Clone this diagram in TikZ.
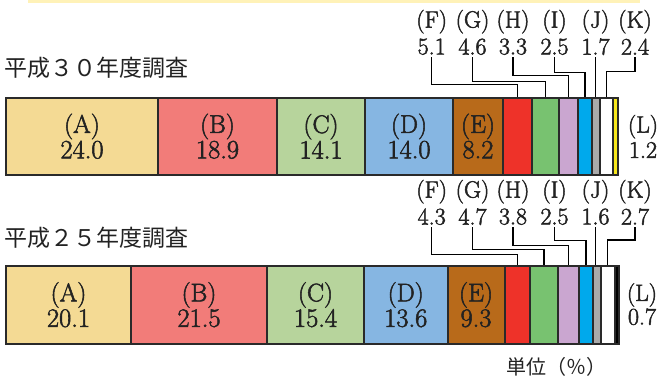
\documentclass[tikz,border=0pt]{standalone}
\usepackage{fontspec}
\setmainfont{Latin Modern Roman}[FakeBold=2]
\newfontfamily\jpfont{Noto Sans CJK JP}
\definecolor{cA}{HTML}{F4DA94}
\definecolor{cB}{HTML}{F27C79}
\definecolor{cC}{HTML}{B7D49C}
\definecolor{cD}{HTML}{86B6E2}
\definecolor{cE}{HTML}{B86A1A}
\definecolor{cF}{HTML}{EE3229}
\definecolor{cG}{HTML}{78C270}
\definecolor{cH}{HTML}{CAA6D0}
\definecolor{cI}{HTML}{00A9EC}
\definecolor{cJ}{HTML}{AAAAAA}
\definecolor{cLy}{HTML}{F8E81C}
\definecolor{band}{HTML}{FFF2B8}
\definecolor{lc}{HTML}{2A2A2A}
\definecolor{tc}{HTML}{222222}
\newcommand\lbf{\fontsize{25.5}{25.5}\selectfont}
\newcommand\vlf{\fontsize{26.5}{25.5}\selectfont}
\begin{document}
\begin{tikzpicture}[x=1pt,y=-1pt,
  segtop/.style={draw=lc, line width=2pt, inner sep=0pt, anchor=west, minimum height=77.5pt, align=center, font=\vlf, text=tc},
  segbot/.style={draw=lc, line width=2pt, inner sep=0pt, anchor=west, minimum height=78.5pt, align=center, font=\vlf, text=tc},
  lab/.style={inner sep=1pt, font=\fontsize{23.5}{24.5}\selectfont, text=tc},
  val/.style={inner sep=2pt, font=\fontsize{24}{24.5}\selectfont, text=tc},
  leader/.style={draw=black, line width=1.3pt},
  jp/.style={inner sep=0pt, font=\jpfont\fontsize{23}{23}\selectfont, text=tc}]
\useasboundingbox (0,0) rectangle (670,378);
\fill[band] (28,0) rectangle (640,3);

% ---- H30 ----
\node[jp, anchor=west] (t30) at (4,67.5) {平成３０年度調査};
\node[segtop, fill=cA, minimum width=152pt] (tA) at (5,136.25) {{\lbf (A)}\\24.0};
\node[segtop, fill=cB, minimum width=119pt] (tB) at (157,136.25) {{\lbf (B)}\\18.9};
\node[segtop, fill=cC, minimum width=88pt] (tC) at (276,136.25) {{\lbf (C)}\\14.1};
\node[segtop, fill=cD, minimum width=88pt] (tD) at (364,136.25) {{\lbf (D)}\\14.0};
\node[segtop, fill=cE, minimum width=50pt] (tE) at (452,136.25) {{\lbf (E)}\\8.2};
\node[segtop, fill=cF, minimum width=29pt] (tF) at (502,136.25) {};
\node[segtop, fill=cG, minimum width=27pt] (tG) at (531,136.25) {};
\node[segtop, fill=cH, minimum width=19pt] (tH) at (558,136.25) {};
\node[segtop, fill=cI, minimum width=14pt] (tI) at (577,136.25) {};
\node[segtop, fill=cJ, minimum width=8pt] (tJ) at (591,136.25) {};
\node[segtop, fill=white, minimum width=13pt] (tK) at (599,136.25) {};
\node[segtop, fill=cLy, minimum width=5pt] (tL) at (612,136.25) {};

\node[lab] (tlF) at (431.7,21.7) {(F)};
\node[lab] (tlG) at (472.5,21.7) {(G)};
\node[lab] (tlH) at (513,21.7) {(H)};
\node[lab] (tlI) at (554.5,21.7) {(I)};
\node[lab] (tlJ) at (595.5,21.7) {(J)};
\node[lab] (tlK) at (635,21.7) {(K)};
\node[val] (tvF) at (431.7,46.7) {5.1};
\node[val] (tvG) at (472.5,46.7) {4.6};
\node[val] (tvH) at (513,46.7) {3.3};
\node[val] (tvI) at (554.5,46.7) {2.5};
\node[val] (tvJ) at (595.5,46.7) {1.7};
\node[val] (tvK) at (635,46.7) {2.4};

\draw[leader] (tvF.south) -- (tvF.south |- 0,84.3) -| (tF.north);
\draw[leader] (tvG.south) -- (tvG.south |- 0,81.5) -| (tG.north);
\draw[leader] (tvH.south) -- (tvH.south |- 0,75.5) -| (tH.north);
\draw[leader] (tvI.south) -- (tvI.south |- 0,72.5) -| (tI.north);
\draw[leader] (tvJ.south) -- (tvJ.south |- tJ.north);
\draw[leader] (tvK.south) -- (tvK.south |- 0,71.5) -| (tK.north);

\node[lab] (tlL) at (643,126.7) {(L)};
\node[val] (tvL) at (643,150) {1.2};

% ---- H25 ----
\node[jp, anchor=west] (t25) at (4,237.5) {平成２５年度調査};
\node[segbot, fill=cA, minimum width=125pt] (bA) at (5,304.75) {{\lbf (A)}\\20.1};
\node[segbot, fill=cB, minimum width=136pt] (bB) at (130,304.75) {{\lbf (B)}\\21.5};
\node[segbot, fill=cC, minimum width=97pt] (bC) at (266,304.75) {{\lbf (C)}\\15.4};
\node[segbot, fill=cD, minimum width=83.5pt] (bD) at (363,304.75) {{\lbf (D)}\\13.6};
\node[segbot, fill=cE, minimum width=57pt] (bE) at (446.5,304.75) {{\lbf (E)}\\9.3};
\node[segbot, fill=cF, minimum width=25.5pt] (bF) at (503.5,304.75) {};
\node[segbot, fill=cG, minimum width=28pt] (bG) at (529,304.75) {};
\node[segbot, fill=cH, minimum width=21pt] (bH) at (557,304.75) {};
\node[segbot, fill=cI, minimum width=14pt] (bI) at (578,304.75) {};
\node[segbot, fill=cJ, minimum width=7.5pt] (bJ) at (592,304.75) {};
\node[segbot, fill=white, minimum width=14.5pt] (bK) at (599.5,304.75) {};
\node[segbot, fill=black, minimum width=4pt] (bL) at (614,304.75) {};

\node[lab] (blF) at (431.7,191.7) {(F)};
\node[lab] (blG) at (472.5,191.7) {(G)};
\node[lab] (blH) at (513,191.7) {(H)};
\node[lab] (blI) at (554.5,191.7) {(I)};
\node[lab] (blJ) at (595.5,191.7) {(J)};
\node[lab] (blK) at (635,191.7) {(K)};
\node[val] (bvF) at (431.7,216.7) {4.3};
\node[val] (bvG) at (472.5,216.7) {4.7};
\node[val] (bvH) at (513,216.7) {3.8};
\node[val] (bvI) at (554.5,216.7) {2.5};
\node[val] (bvJ) at (595.5,216.7) {1.6};
\node[val] (bvK) at (635,216.7) {2.7};

\draw[leader] (bvF.south) -- (bvF.south |- 0,254.3) -| (bF.north);
\draw[leader] (bvG.south) -- (bvG.south |- 0,249.5) -| (bG.north);
\draw[leader] (bvH.south) -- (bvH.south |- 0,245.7) -| (bH.north);
\draw[leader] (bvI.south) -- (bvI.south |- 0,240.5) -| (bI.north);
\draw[leader] (bvJ.south) -- (bvJ.south |- bJ.north);
\draw[leader] (bvK.south) -- (bvK.south |- 0,240) -| (bK.north);

\node[lab] (blL) at (642,295) {(L)};
\node[val] (bvL) at (642,316.7) {0.7};

\node[inner sep=0pt, anchor=west, font=\jpfont\fontsize{20}{20}\selectfont, text=tc] (unit) at (506,367) {単位（％）};
\end{tikzpicture}
\end{document}
